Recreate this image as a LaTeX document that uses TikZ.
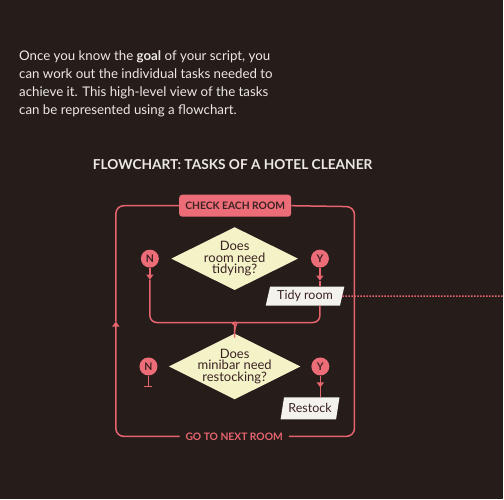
\documentclass[tikz,border=0pt]{standalone}
\usepackage{fontspec}
\setmainfont{Lato}
\usetikzlibrary{
    shapes.geometric,
    positioning,
    arrows.meta
}
\definecolor{board}{HTML}{261D1B}
\definecolor{rose}{HTML}{E6646E}
\definecolor{rosefill}{HTML}{EC6D78}
\definecolor{cream}{HTML}{F4F3C8}
\definecolor{paper}{HTML}{F3F2EC}
\definecolor{ink}{HTML}{3B2223}
\definecolor{chalk}{HTML}{ECE8E4}
\tikzset{
  intro/.style = {
      text=chalk,
      inner sep=0pt,
      align=left,
      font=\fontsize{13.3}{18}\selectfont
  },
  heading/.style = {
      text=chalk,
      inner sep=0pt,
      font=\bfseries\fontsize{13.7}{16}\selectfont
  },
  roombox/.style = {
      rectangle,
      rounded corners=3pt,
      fill=rosefill,
      text=ink,
      minimum width=112pt,
      minimum height=22pt,
      inner sep=0pt,
      font=\bfseries\fontsize{10.3}{12}\selectfont
  },
  question/.style = {
      diamond,
      aspect=2,
      fill=cream,
      text=ink,
      align=center,
      inner xsep=-2.5pt,
      inner ysep=-2pt,
      minimum width=127pt,
      minimum height=63pt,
      font=\fontsize{13}{11.8}\selectfont
  },
  answer/.style = {
      circle,
      fill=rosefill,
      text=ink,
      minimum size=18pt,
      inner sep=0pt,
      font=\bfseries\fontsize{10.5}{11}\selectfont
  },
  task/.style = {
      trapezium,
      trapezium left angle=73,
      trapezium right angle=107,
      trapezium stretches=true,
      fill=paper,
      text=ink,
      inner sep=0pt,
      font=\fontsize{12.5}{14}\selectfont
  },
  looplabel/.style = {
      text=rose,
      inner sep=0pt,
      font=\bfseries\fontsize{10.3}{12}\selectfont
  },
  frame/.style = {
      draw=rose,
      line width=1.5pt
  },
  flow/.style = {
      frame,
      rounded corners=7pt
  },
  arrowed/.style = {
      frame,
      -{Triangle[width=7pt,length=5pt]}
  },
  trail/.style = {
      draw=rose,
      line width=1.5pt,
      dash pattern=on 1.5pt off 1.5pt
  }
}

\begin{document}
\begin{tikzpicture}[x=1pt,y=-1pt]
    \fill[board] (0,0) rectangle (504,500);
    \node[intro, anchor=north west] (intro) at (19,51)
        {Once you know the \textbf{goal} of your script, you\\
         can work out the individual tasks needed to\\
         achieve it. This high-level view of the tasks\\
         can be represented using a flowchart.};
    \node[heading] (heading) at (233,165) {FLOWCHART: TASKS OF A HOTEL CLEANER};
    % Boxes
    \node[roombox] (check) at (235.5,206) {CHECK EACH ROOM};
    \node[question] (tidyq) at (235,259) {Does\\room need\\tidying?};
    \node[answer, left=12pt of tidyq] (tidyn) {N};
    \node[answer, right=12.5pt of tidyq] (tidyy) {Y};
    \node[task, minimum width=79pt, minimum height=19pt] (tidy) at (305.5,296.5) {Tidy room};
    \node[question] (barq) at (235,367) {Does\\minibar need\\restocking?};
    \node[answer, left=11pt of barq] (barn) {N};
    \node[answer, right=10.5pt of barq] (bary) {Y};
    \node[task, minimum width=59pt, minimum height=22pt] (restock) at (310.5,409) {Restock};
    \node[looplabel, minimum width=109pt, minimum height=12pt] (next) at (234.5,437) {GO TO NEXT ROOM};
    % Loop round the rooms
    \coordinate (uparrow) at (116,322);
    \coordinate (topright) at (355,207);
    \draw[arrowed, rounded corners=8pt] (next.west) -| (uparrow);
    \draw[frame, rounded corners=8pt] (uparrow) |- (check.west);
    \draw[frame, rounded corners=8pt] (next.east) -| (topright) -- (check.east);
    % Tidying
    \coordinate (mergeleft) at (227,323);
    \coordinate (mergeright) at (243,323);
    \coordinate (merge) at (235,331);
    \draw[arrowed] (tidyn) -- ++(0,21) coordinate (ntip);
    \draw[flow] (ntip) |- (mergeleft) to[out=0,in=90] (merge) -- (barq.north);
    \draw[arrowed] (tidyy) -- ++(0,22) coordinate (ytip);
    \draw[frame] (ytip) -- (ytip |- tidy.north);
    \draw[flow] (ytip |- tidy.south) |- (mergeright) to[out=180,in=90] (merge);
    \coordinate (offpage) at (504,296.5);
    \draw[trail] (tidy.east) -- (offpage);
    % Minibar
    \draw[frame, -{Bar[width=8pt]}] (barn) -- ++(0,21);
    \draw[arrowed] (bary) -- ++(0,21) coordinate (rtip);
    \draw[frame] (rtip) -- (rtip |- restock.north);
\end{tikzpicture}
\end{document}
